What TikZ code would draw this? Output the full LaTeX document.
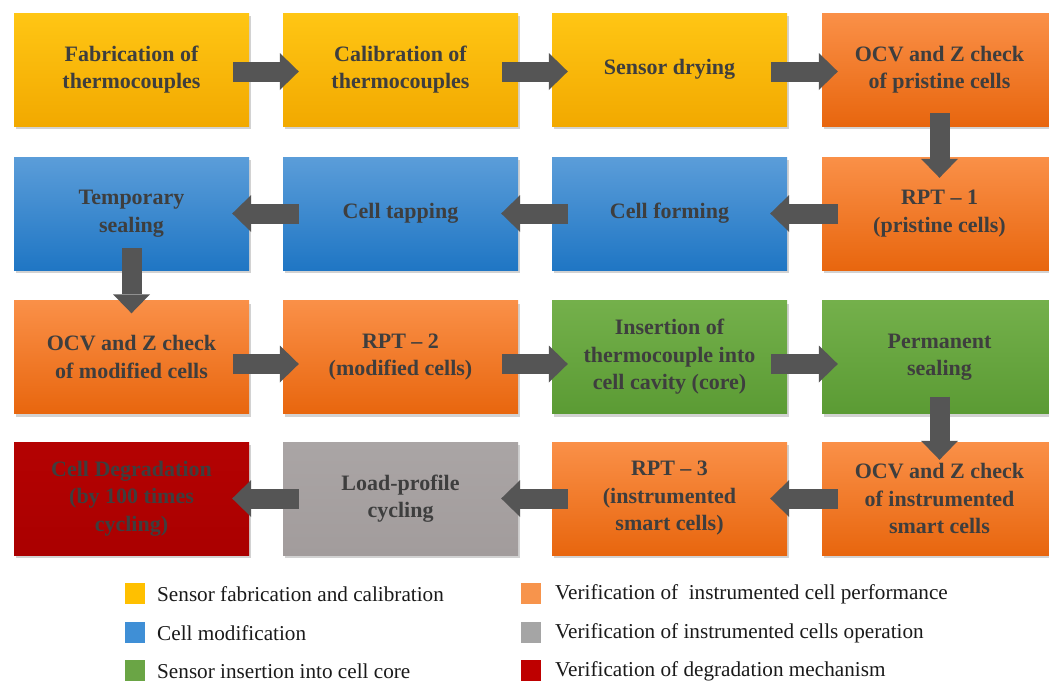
\documentclass[tikz,border=0pt]{standalone}
\usepackage{fontspec}
\setmainfont{Liberation Serif}
\usetikzlibrary{shadows,arrows.meta,calc}
\definecolor{yT}{HTML}{FFC614}
\definecolor{yB}{HTML}{F2A900}
\definecolor{oT}{HTML}{FA9048}
\definecolor{oB}{HTML}{E8660E}
\definecolor{bT}{HTML}{5B9DD9}
\definecolor{bB}{HTML}{1F76C4}
\definecolor{gT}{HTML}{74B04B}
\definecolor{gB}{HTML}{5B9B34}
\definecolor{rT}{HTML}{B40202}
\definecolor{rB}{HTML}{AA0000}
\definecolor{grT}{HTML}{AAA5A5}
\definecolor{grB}{HTML}{A29C9C}
\definecolor{txt}{HTML}{3E3E3E}
\definecolor{arrg}{HTML}{555555}
\definecolor{legtxt}{HTML}{1A1A1A}
\definecolor{lY}{HTML}{FFC000}
\definecolor{lB}{HTML}{3F8FD6}
\definecolor{lG}{HTML}{6AA545}
\definecolor{lO}{HTML}{F7944C}
\definecolor{lGr}{HTML}{A5A5A5}
\definecolor{lR}{HTML}{BE0000}
\begin{document}
\begin{tikzpicture}[x=1pt,y=1pt,
  box/.style={rectangle, minimum width=235pt, minimum height=113pt, inner sep=0pt,
    align=center, text=txt, font=\bfseries\fontsize{22}{27.5}\selectfont,
    drop shadow={shadow xshift=1.5pt, shadow yshift=-3pt, opacity=0.35}},
  ybox/.style={box, top color=yT, bottom color=yB},
  obox/.style={box, top color=oT, bottom color=oB},
  bbox/.style={box, top color=bT, bottom color=bB},
  gbox/.style={box, top color=gT, bottom color=gB},
  rbox/.style={box, top color=rT, bottom color=rB},
  gybox/.style={box, top color=grT, bottom color=grB},
  arr/.style={draw=arrg, line width=20pt, line cap=butt,
    -{Triangle[length=19pt,width=37pt,line width=0pt]}},
  legbox/.style={rectangle, minimum width=20pt, minimum height=21pt, inner sep=0pt},
  legtext/.style={anchor=west, inner sep=0pt, text=legtxt,
    font=\fontsize{21.2}{24}\selectfont}]
\useasboundingbox (0,-680) rectangle (1049,0);
\fill[white] (0,-680) rectangle (1049,0);
% row 1
\node[ybox] (b1) at (131.5,-69.5) {Fabrication of\\thermocouples};
\node[ybox] (b2) at (400.5,-69.5) {Calibration of\\thermocouples};
\node[ybox] (b3) at (669.5,-69.5) {Sensor drying};
\node[obox] (b4) at (939.5,-69.5) {OCV and Z check\\of pristine cells};
% row 2
\node[obox] (b5) at (939.5,-213.5) {RPT -- 1\\(pristine cells)};
\node[bbox] (b6) at (669.5,-213.5) {Cell forming};
\node[bbox] (b7) at (400.5,-213.5) {Cell tapping};
\node[bbox] (b8) at (131.5,-213.5) {Temporary\\sealing};
% row 3
\node[obox] (b9) at (131.5,-357) {OCV and Z check\\of modified cells};
\node[obox] (b10) at (400.5,-357) {RPT -- 2\\(modified cells)};
\node[gbox] (b11) at (669.5,-357) {Insertion of\\thermocouple into\\cell cavity (core)};
\node[gbox] (b12) at (939.5,-357) {Permanent\\sealing};
% row 4
\node[obox] (b13) at (939.5,-498.5) {OCV and Z check\\of instrumented\\smart cells};
\node[obox] (b14) at (669.5,-498.5) {RPT -- 3\\(instrumented\\smart cells)};
\node[gybox] (b15) at (400.5,-498.5) {Load-profile\\cycling};
\node[rbox] (b16) at (131.5,-498.5) {Cell Degradation\\(by 100 times\\cycling)};
% arrows row 1
\draw[arr] ([shift={(-16pt,-2pt)}]b1.east) -- ([shift={(16pt,-2pt)}]b2.west);
\draw[arr] ([shift={(-16pt,-2pt)}]b2.east) -- ([shift={(16pt,-2pt)}]b3.west);
\draw[arr] ([shift={(-16pt,-2pt)}]b3.east) -- ([shift={(16pt,-2pt)}]b4.west);
\draw[arr] ([yshift=13pt]b4.south) -- ([yshift=-21pt]b5.north);
% arrows row 2
\draw[arr] ([xshift=16pt]b5.west) -- ([xshift=-17pt]b6.east);
\draw[arr] ([xshift=16pt]b6.west) -- ([xshift=-17pt]b7.east);
\draw[arr] ([xshift=16pt]b7.west) -- ([xshift=-17pt]b8.east);
\draw[arr] ([yshift=22pt]b8.south) -- ([yshift=-13pt]b9.north);
% arrows row 3
\draw[arr] ([shift={(-16pt,-7pt)}]b9.east) -- ([shift={(16pt,-7pt)}]b10.west);
\draw[arr] ([shift={(-16pt,-7pt)}]b10.east) -- ([shift={(16pt,-7pt)}]b11.west);
\draw[arr] ([shift={(-16pt,-7pt)}]b11.east) -- ([shift={(16pt,-7pt)}]b12.west);
\draw[arr] ([yshift=17pt]b12.south) -- ([yshift=-18pt]b13.north);
% arrows row 4
\draw[arr] ([xshift=16pt]b13.west) -- ([xshift=-17pt]b14.east);
\draw[arr] ([xshift=16pt]b14.west) -- ([xshift=-17pt]b15.east);
\draw[arr] ([xshift=16pt]b15.west) -- ([xshift=-17pt]b16.east);
% legend
\node[legbox, fill=lY] (l1) at (135,-593) {};
\node[legbox, fill=lB] (l2) at (135,-632) {};
\node[legbox, fill=lG] (l3) at (135,-670) {};
\node[legbox, fill=lO] (l4) at (531,-593) {};
\node[legbox, fill=lGr] (l5) at (531,-632) {};
\node[legbox, fill=lR] (l6) at (531,-670) {};
\node[legtext] (t1) at (157,-594) {Sensor fabrication and calibration};
\node[legtext] (t2) at (157,-633) {Cell modification};
\node[legtext] (t3) at (157,-671) {Sensor insertion into cell core};
\node[legtext] (t4) at (555,-594) {Verification of~ instrumented cell performance};
\node[legtext] (t5) at (555,-633) {Verification of instrumented cells operation};
\node[legtext] (t6) at (555,-671) {Verification of degradation mechanism};
\end{tikzpicture}
\end{document}
